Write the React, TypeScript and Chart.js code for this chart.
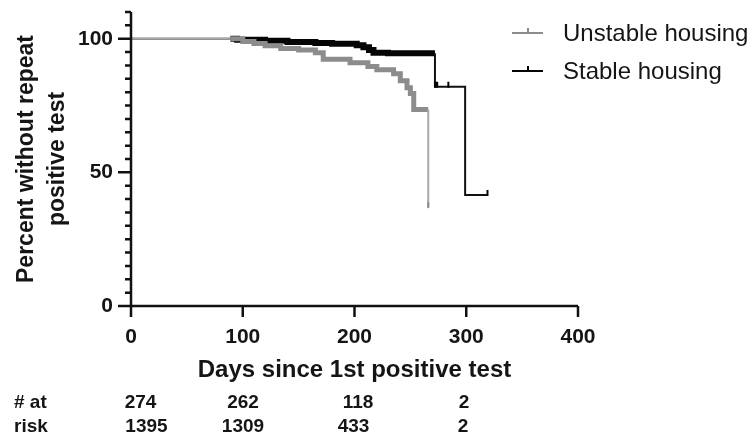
import React, { useEffect, useRef } from 'react';
import { Chart, registerables } from 'chart.js';

Chart.register(...registerables);

const FONT = '"Liberation Sans", Arial, Helvetica, sans-serif';

// ---- data ----
const seriesLabels = ['Unstable housing', 'Stable housing'];

const unstableDays = [0, 89, 100, 110, 120, 134, 150, 165, 172, 196, 212, 220, 235, 241, 247, 250, 253, 266, 266];
const unstableSurv = [100, 100, 99, 98.2, 97.4, 96.3, 95.8, 94.8, 92.3, 91, 89.6, 88.4, 86.9, 84.3, 81.7, 79.5, 73.5, 73.5, 37];
const unstableDenseCensor = [89, 266];
const unstableCensorDays = [266];
const unstableCensorSurv = [37];

const stableDays = [0, 89, 95, 120, 140, 165, 180, 202, 208, 213, 217, 230, 272, 272, 299, 299, 319];
const stableSurv = [100, 100, 99.6, 99.2, 98.8, 98.4, 98.1, 97.6, 96.8, 95.8, 94.8, 94.6, 94.6, 82, 82, 41.5, 41.5];
const stableDenseCensor = [89, 272];
const stableCensorDays = [272, 273, 274, 284, 319];
const stableCensorSurv = [82, 82, 82, 82, 41.5];

const xTickValues = [0, 100, 200, 300, 400];
const yTickValues = [0, 50, 100];
const yMinorStep = 5;
const yMax = 110;

const riskRowLabels = ['# at', 'risk'];
const riskUnstable = [274, 262, 118, 2];
const riskStable = [1395, 1309, 433, 2];

// ---- layout / style (not data) ----
const W = 751;
const H = 437;
const riskRowY = [403, 427];
const riskCentersRow1 = [140.5, 243, 358, 464];
const riskCentersRow2 = [146.5, 243, 353.5, 463];
const colors = {
  unstableBand: '#8c8c8c',
  unstableThin: '#a8a8a8',
  stableBand: '#050505',
  stableThin: '#111111',
  text: '#151515',
};

function toPoints(xs: number[], ys: number[]) {
  return xs.map((x, i) => ({ x, y: ys[i] }));
}

function segStyle(range: number[], thick: number, thin: number, bandColor: string, thinColor: string) {
  const isThick = (ctx: any) =>
    ctx.p0.parsed.x >= range[0] && ctx.p1.parsed.x <= range[1] && ctx.p1.parsed.x > ctx.p0.parsed.x;
  return {
    borderWidth: (ctx: any) => (isThick(ctx) ? thick : thin),
    borderColor: (ctx: any) => (isThick(ctx) ? bandColor : thinColor),
  };
}

const kmPlugin = {
  id: 'kmDecor',
  afterDatasetsDraw(chart: any) {
    const { ctx, scales } = chart;
    const x = scales.x;
    const y = scales.y;
    const x0 = x.getPixelForValue(0);
    const x1 = x.getPixelForValue(xTickValues[xTickValues.length - 1]);
    const y0 = y.getPixelForValue(0);
    const yTop = y.getPixelForValue(yMax);
    ctx.save();
    const drawCensor = (days: number[], surv: number[], color: string) => {
      ctx.strokeStyle = color;
      ctx.lineWidth = 2;
      ctx.beginPath();
      days.forEach((d, i) => {
        const px = x.getPixelForValue(d);
        const py = y.getPixelForValue(surv[i]);
        ctx.moveTo(px, py + 1);
        ctx.lineTo(px, py - 5);
      });
      ctx.stroke();
    };
    drawCensor(unstableCensorDays, unstableCensorSurv, colors.unstableBand);
    drawCensor(stableCensorDays, stableCensorSurv, colors.stableBand);

    ctx.strokeStyle = '#111';
    ctx.lineWidth = 2.5;
    ctx.lineCap = 'butt';
    ctx.beginPath();
    ctx.moveTo(x0, yTop);
    ctx.lineTo(x0, y0 + 11);
    ctx.moveTo(x0 - 13, y0);
    ctx.lineTo(x1, y0);
    for (let v = 0; v <= yMax; v += yMinorStep) {
      const py = y.getPixelForValue(v);
      const len = yTickValues.includes(v) ? 13 : 6;
      ctx.moveTo(x0 - len, py);
      ctx.lineTo(x0, py);
    }
    xTickValues.forEach((v) => {
      const px = x.getPixelForValue(v);
      ctx.moveTo(px, y0);
      ctx.lineTo(px, y0 + 11);
    });
    ctx.stroke();
    ctx.restore();
  },
  afterDraw(chart: any) {
    const { ctx } = chart;
    ctx.save();
    const legendY = [33, 71];
    const legendColors = [colors.unstableBand, colors.stableBand];
    seriesLabels.forEach((lab, i) => {
      ctx.strokeStyle = legendColors[i];
      ctx.lineWidth = 2;
      ctx.beginPath();
      ctx.moveTo(512, legendY[i]);
      ctx.lineTo(543, legendY[i]);
      ctx.moveTo(528, legendY[i]);
      ctx.lineTo(528, legendY[i] - 5);
      ctx.stroke();
      ctx.fillStyle = colors.text;
      ctx.font = `24px ${FONT}`;
      ctx.textAlign = 'left';
      ctx.textBaseline = 'middle';
      ctx.fillText(lab, 563, legendY[i] + 1);
    });
    ctx.font = `bold 19px ${FONT}`;
    ctx.fillStyle = colors.text;
    ctx.textBaseline = 'middle';
    riskRowLabels.forEach((lab, r) => {
      ctx.textAlign = 'left';
      ctx.fillText(lab, 14, riskRowY[r]);
    });
    ctx.textAlign = 'center';
    riskUnstable.forEach((v, i) => ctx.fillText(String(v), riskCentersRow1[i], riskRowY[0]));
    riskStable.forEach((v, i) => ctx.fillText(String(v), riskCentersRow2[i], riskRowY[1]));
    ctx.restore();
  },
};

export default function App() {
  const ref = useRef<HTMLCanvasElement | null>(null);
  useEffect(() => {
    if (!ref.current) return;
    Chart.defaults.font.family = FONT;
    const chart = new Chart(ref.current, {
      type: 'line',
      data: {
        datasets: [
          {
            label: seriesLabels[0],
            data: toPoints(unstableDays, unstableSurv),
            stepped: 'before',
            pointRadius: 0,
            fill: false,
            borderColor: colors.unstableThin,
            borderWidth: 2,
            borderCapStyle: 'butt',
            segment: segStyle(unstableDenseCensor, 5, 2, colors.unstableBand, colors.unstableThin),
          },
          {
            label: seriesLabels[1],
            data: toPoints(stableDays, stableSurv),
            stepped: 'before',
            pointRadius: 0,
            fill: false,
            borderColor: colors.stableThin,
            borderWidth: 2,
            borderCapStyle: 'butt',
            segment: segStyle(stableDenseCensor, 6, 2, colors.stableBand, colors.stableThin),
          },
        ],
      },
      options: {
        responsive: false,
        animation: false,
        events: [],
        layout: { autoPadding: false, padding: { top: 12, right: 173, left: 0, bottom: 0 } },
        plugins: { legend: { display: false }, title: { display: false }, tooltip: { enabled: false } },
        scales: {
          x: {
            type: 'linear',
            min: 0,
            max: 400,
            afterFit: (s: any) => {
              s.height = 131;
              s.paddingLeft = 0;
              s.paddingRight = 0;
              s.paddingTop = 0;
              s.paddingBottom = 0;
            },
            afterBuildTicks: (s: any) => {
              s.ticks = xTickValues.map((v) => ({ value: v }));
            },
            grid: { display: false, drawTicks: false },
            border: { display: false },
            ticks: {
              padding: 19,
              color: colors.text,
              font: { size: 21, weight: 'bold', family: FONT },
              maxRotation: 0,
            },
            title: {
              display: true,
              text: 'Days since 1st positive test',
              color: colors.text,
              font: { size: 24, weight: 'bold', family: FONT, lineHeight: 1.2 },
              padding: { top: 0, bottom: 52.6 },
            },
          },
          y: {
            type: 'linear',
            min: 0,
            max: yMax,
            afterFit: (s: any) => {
              s.width = 131;
              s.paddingLeft = 0;
              s.paddingRight = 0;
              s.paddingTop = 0;
              s.paddingBottom = 0;
            },
            afterBuildTicks: (s: any) => {
              s.ticks = yTickValues.map((v) => ({ value: v }));
            },
            grid: { display: false, drawTicks: false },
            border: { display: false },
            ticks: {
              padding: 18,
              color: colors.text,
              font: { size: 21, weight: 'bold', family: FONT },
            },
            title: {
              display: true,
              text: ['Percent without repeat', 'positive test'],
              color: colors.text,
              font: { size: 23, weight: 'bold', family: FONT, lineHeight: 31 / 23 },
              padding: { top: 11.5, bottom: 0 },
            },
          },
        },
      },
      plugins: [kmPlugin],
    } as any);
    return () => chart.destroy();
  }, []);
  return (
    <div style={{ position: 'absolute', left: 0, top: 0, width: W, height: H, background: '#fff' }}>
      <canvas ref={ref} width={W} height={H} style={{ width: W, height: H, display: 'block' }} />
    </div>
  );
}
